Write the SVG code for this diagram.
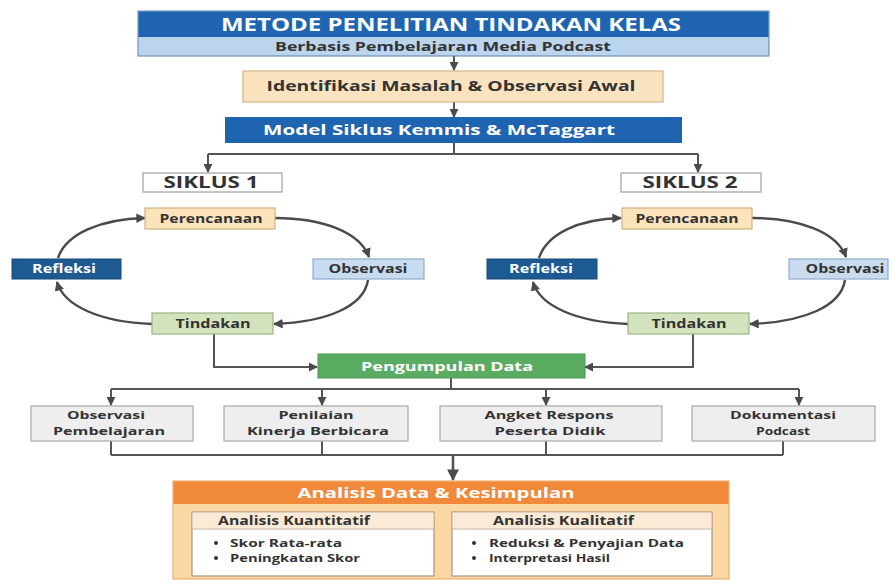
<svg xmlns="http://www.w3.org/2000/svg" width="892" height="580" viewBox="0 0 892 580">
<defs>
<marker id="ah" viewBox="0 0 10 10" refX="9" refY="5" markerWidth="4.5" markerHeight="4.5" orient="auto" markerUnits="strokeWidth">
<path d="M0,0 L10,5 L0,10 z" fill="#4a4a4a"/>
</marker>
<marker id="ahs" viewBox="0 0 10 10" refX="9" refY="5" markerWidth="4" markerHeight="4" orient="auto" markerUnits="strokeWidth">
<path d="M0,0 L10,5 L0,10 z" fill="#4a4a4a"/>
</marker>
</defs>
<style>
text{font-family:"Open Sans","Liberation Sans",sans-serif;font-weight:bold;}
.c{text-anchor:middle;}
.w{fill:#ffffff;}
.d{fill:#333333;}
.ln{fill:none;stroke:#555555;stroke-width:2;}
.arc{fill:none;stroke:#4a4a4a;stroke-width:2.4;marker-end:url(#ahs);}
.ar{fill:none;stroke:#555555;stroke-width:2;marker-end:url(#ah);}
.grey{fill:#eeeeee;stroke:#a8a8a8;stroke-width:1.2;}
.plan{fill:#fbe3bb;stroke:#d2b07c;stroke-width:1.2;}
.refl{fill:#1d5a92;stroke:#164a7a;stroke-width:1;}
.obs{fill:#c9dcef;stroke:#90accb;stroke-width:1.2;}
.tind{fill:#d3e3be;stroke:#9cb485;stroke-width:1.2;}
.sik{fill:#ffffff;stroke:#a0a0a0;stroke-width:1.2;}
.s11{font-size:11.5px;}
.s12{font-size:12px;}
.g{font-size:11px;}
.b{font-size:11px;}
</style>

<g id="connectors">
<path class="ar" d="M454,56 V70"/>
<path class="ar" d="M454,102 V117"/>
<path class="ln" d="M454,143 V154 M208,154 H698"/>
<path class="ar" d="M208,154 V172"/>
<path class="ar" d="M698,154 V172"/>
<path class="arc" d="M275,218 C322,218 360,232 369,257"/>
<path class="arc" d="M368,280 C364,306 328,322 274,324"/>
<path class="arc" d="M152,324 C100,322 64,306 57,282"/>
<path class="arc" d="M58,258 C66,234 100,219 145,218"/>
<path class="arc" d="M752,218 C799,218 837,232 846,257"/>
<path class="arc" d="M845,280 C841,306 805,322 750,324"/>
<path class="arc" d="M628,324 C576,322 540,306 533,282"/>
<path class="arc" d="M539,258 C547,234 578,219 621,218"/>
<path class="ar" d="M214,334 V367 H317"/>
<path class="ar" d="M693,334 V367 H585"/>
<path class="ln" d="M451,378 V389 M111,389 H799"/>
<path class="ar" d="M111,389 V405"/>
<path class="ar" d="M322,389 V405"/>
<path class="ar" d="M546,389 V405"/>
<path class="ar" d="M799,389 V405"/>
<path class="ln" d="M111,441 V455 M322,441 V455 M546,441 V455 M783,441 V455 M111,455 H783"/>
<path class="ar" d="M453,455 V480" style="stroke-width:2.6"/>
</g>

<g id="title">
<rect x="138" y="11" width="631" height="45" fill="#bcd5ee" stroke="#5f7fa8" stroke-width="1"/>
<rect x="138.5" y="11.5" width="630" height="25.5" fill="#1e64b0"/>
<text x="451" y="31" class="c w" style="font-size:17px" textLength="460" lengthAdjust="spacingAndGlyphs">METODE PENELITIAN TINDAKAN KELAS</text>
<text x="443" y="51" class="c d" style="font-size:13px" textLength="336" lengthAdjust="spacingAndGlyphs">Berbasis Pembelajaran Media Podcast</text>
</g>

<g id="identifikasi">
<rect x="243" y="71" width="420" height="31" fill="#fce3c0" stroke="#d5b48a" stroke-width="1.2"/>
<text x="451" y="91" class="c d" style="font-size:15px" textLength="369" lengthAdjust="spacingAndGlyphs">Identifikasi Masalah &amp; Observasi Awal</text>
</g>

<g id="model">
<rect x="225" y="117" width="457" height="26" fill="#1e64b0"/>
<text x="439" y="135" class="c w" style="font-size:15px" textLength="352" lengthAdjust="spacingAndGlyphs">Model Siklus Kemmis &amp; McTaggart</text>
</g>

<g id="siklus1">
<rect class="sik" x="143" y="173" width="139" height="19"/>
<text x="211" y="188" class="c d" style="font-size:15.5px" textLength="95" lengthAdjust="spacingAndGlyphs">SIKLUS 1</text>
</g>
<g id="siklus2">
<rect class="sik" x="621" y="173" width="140" height="19"/>
<text x="690" y="188" class="c d" style="font-size:15.5px" textLength="95" lengthAdjust="spacingAndGlyphs">SIKLUS 2</text>
</g>

<g id="perencanaan1">
<rect class="plan" x="145" y="208" width="130" height="21"/>
<text x="211" y="222.5" class="c d s11" textLength="103" lengthAdjust="spacingAndGlyphs">Perencanaan</text>
</g>
<g id="refleksi1">
<rect class="refl" x="12" y="259" width="109" height="20"/>
<text x="64" y="273" class="c w s11" textLength="64" lengthAdjust="spacingAndGlyphs">Refleksi</text>
</g>
<g id="observasi1">
<rect class="obs" x="313" y="259" width="111" height="20"/>
<text x="368" y="273" class="c d s11" textLength="79" lengthAdjust="spacingAndGlyphs">Observasi</text>
</g>
<g id="tindakan1">
<rect class="tind" x="152" y="313" width="121" height="21"/>
<text x="213" y="328" class="c d s11" textLength="75" lengthAdjust="spacingAndGlyphs">Tindakan</text>
</g>

<g id="perencanaan2">
<rect class="plan" x="622" y="208" width="130" height="21"/>
<text x="687" y="222.5" class="c d s11" textLength="103" lengthAdjust="spacingAndGlyphs">Perencanaan</text>
</g>
<g id="refleksi2">
<rect class="refl" x="487" y="259" width="110" height="20"/>
<text x="541" y="273" class="c w s11" textLength="64" lengthAdjust="spacingAndGlyphs">Refleksi</text>
</g>
<g id="observasi2">
<rect class="obs" x="789" y="259" width="99" height="20"/>
<text x="845" y="273" class="c d s11" textLength="79" lengthAdjust="spacingAndGlyphs">Observasi</text>
</g>
<g id="tindakan2">
<rect class="tind" x="628" y="313" width="121" height="21"/>
<text x="689" y="328" class="c d s11" textLength="75" lengthAdjust="spacingAndGlyphs">Tindakan</text>
</g>

<g id="pengumpulan">
<rect x="318" y="354" width="267" height="24" fill="#5aac63" stroke="#4a9553" stroke-width="1"/>
<text x="447" y="370.5" class="c w" style="font-size:13px" textLength="172" lengthAdjust="spacingAndGlyphs">Pengumpulan Data</text>
</g>

<g id="observasi-pembelajaran">
<rect class="grey" x="31" y="406" width="162" height="35"/>
<text x="106" y="419" class="c d g" textLength="78" lengthAdjust="spacingAndGlyphs">Observasi</text>
<text x="109" y="435" class="c d g" textLength="112" lengthAdjust="spacingAndGlyphs">Pembelajaran</text>
</g>
<g id="penilaian">
<rect class="grey" x="224" y="406" width="184" height="35"/>
<text x="316" y="419" class="c d g" textLength="75" lengthAdjust="spacingAndGlyphs">Penilaian</text>
<text x="318" y="435" class="c d g" textLength="142" lengthAdjust="spacingAndGlyphs">Kinerja Berbicara</text>
</g>
<g id="angket">
<rect class="grey" x="440" y="406" width="222" height="35"/>
<text x="549" y="419" class="c d g" textLength="129" lengthAdjust="spacingAndGlyphs">Angket Respons</text>
<text x="550" y="435" class="c d g" textLength="111" lengthAdjust="spacingAndGlyphs">Peserta Didik</text>
</g>
<g id="dokumentasi">
<rect class="grey" x="692" y="406" width="183" height="35"/>
<text x="783" y="419" class="c d g" textLength="106" lengthAdjust="spacingAndGlyphs">Dokumentasi</text>
<text x="783" y="435" class="c d g" textLength="54" lengthAdjust="spacingAndGlyphs">Podcast</text>
</g>

<g id="analisis">
<rect x="173" y="481" width="556" height="98" fill="#fbd7a3" stroke="#e9a45a" stroke-width="1"/>
<rect x="173.5" y="481.5" width="555" height="22.5" fill="#f0893a"/>
<text x="436" y="498" class="c w" style="font-size:15px" textLength="277" lengthAdjust="spacingAndGlyphs">Analisis Data &amp; Kesimpulan</text>
</g>
<g id="kuantitatif">
<rect x="192" y="512" width="242" height="64" fill="#ffffff" stroke="#a9957f" stroke-width="1.2"/>
<rect x="192.6" y="512.6" width="240.8" height="16" fill="#fbead6"/>
<line x1="192" y1="529" x2="434" y2="529" stroke="#c9b49a" stroke-width="1"/>
<text x="218" y="525" class="d s12" textLength="152" lengthAdjust="spacingAndGlyphs">Analisis Kuantitatif</text>
<circle cx="216" cy="543" r="2" fill="#333"/>
<text x="230" y="547" class="d b" textLength="112" lengthAdjust="spacingAndGlyphs">Skor Rata-rata</text>
<circle cx="216" cy="558" r="2" fill="#333"/>
<text x="230" y="562" class="d b" textLength="130" lengthAdjust="spacingAndGlyphs">Peningkatan Skor</text>
</g>
<g id="kualitatif">
<rect x="452" y="512" width="260" height="64" fill="#ffffff" stroke="#a9957f" stroke-width="1.2"/>
<rect x="452.6" y="512.6" width="258.8" height="16" fill="#fbead6"/>
<line x1="452" y1="529" x2="712" y2="529" stroke="#c9b49a" stroke-width="1"/>
<text x="493" y="525" class="d s12" textLength="141" lengthAdjust="spacingAndGlyphs">Analisis Kualitatif</text>
<circle cx="474" cy="543" r="2" fill="#333"/>
<text x="489" y="547" class="d b" textLength="195" lengthAdjust="spacingAndGlyphs">Reduksi &amp; Penyajian Data</text>
<circle cx="474" cy="558" r="2" fill="#333"/>
<text x="489" y="562" class="d b" textLength="121" lengthAdjust="spacingAndGlyphs">Interpretasi Hasil</text>
</g>
</svg>
